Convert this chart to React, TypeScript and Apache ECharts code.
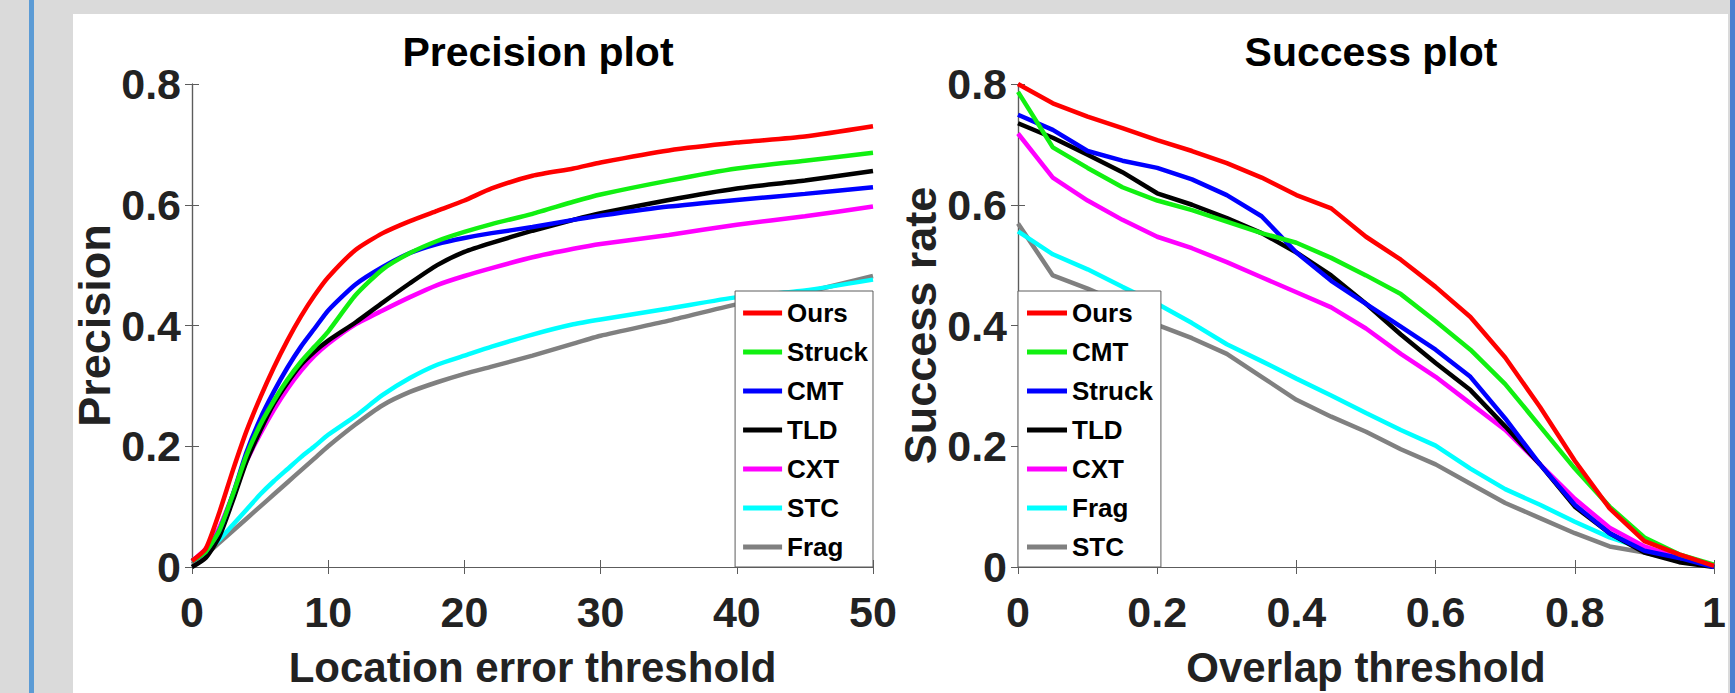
import React, { useEffect, useRef } from "react";
import * as echarts from "echarts";

// ---------- Data ----------
const precisionThresholds = [0, 1, 2, 3, 4, 5, 6, 7, 8, 9, 10, 12, 14, 16, 18, 20, 22, 25, 28, 30, 35, 40, 45, 50];
const precisionNames = ["Ours", "Struck", "CMT", "TLD", "CXT", "STC", "Frag"];
const precOurs = [0.01, 0.03, 0.09, 0.16, 0.225, 0.28, 0.33, 0.375, 0.415, 0.45, 0.48, 0.525, 0.553, 0.573, 0.59, 0.607, 0.627, 0.648, 0.66, 0.67, 0.69, 0.703, 0.713, 0.73];
const precStruck = [0.01, 0.025, 0.06, 0.12, 0.185, 0.235, 0.275, 0.31, 0.34, 0.365, 0.39, 0.45, 0.493, 0.52, 0.54, 0.555, 0.568, 0.585, 0.605, 0.617, 0.64, 0.66, 0.673, 0.686];
const precCMT = [0.01, 0.025, 0.06, 0.12, 0.19, 0.245, 0.29, 0.33, 0.365, 0.395, 0.425, 0.468, 0.497, 0.52, 0.535, 0.545, 0.553, 0.563, 0.575, 0.582, 0.597, 0.608, 0.618, 0.629];
const precTLD = [0.0, 0.015, 0.05, 0.11, 0.175, 0.225, 0.27, 0.305, 0.335, 0.357, 0.375, 0.405, 0.438, 0.47, 0.5, 0.522, 0.537, 0.557, 0.575, 0.586, 0.608, 0.627, 0.64, 0.656];
const precCXT = [0.01, 0.03, 0.065, 0.12, 0.175, 0.22, 0.26, 0.295, 0.325, 0.35, 0.37, 0.402, 0.425, 0.447, 0.467, 0.482, 0.495, 0.513, 0.527, 0.535, 0.55, 0.567, 0.581, 0.597];
const precSTC = [0.01, 0.025, 0.045, 0.07, 0.095, 0.12, 0.142, 0.162, 0.182, 0.2, 0.219, 0.25, 0.285, 0.313, 0.335, 0.35, 0.365, 0.385, 0.402, 0.41, 0.428, 0.447, 0.458, 0.476];
const precFrag = [0.005, 0.02, 0.04, 0.06, 0.08, 0.1, 0.12, 0.14, 0.16, 0.18, 0.2, 0.236, 0.268, 0.29, 0.306, 0.32, 0.332, 0.35, 0.37, 0.383, 0.408, 0.435, 0.455, 0.482];
const precisionValues = [precOurs, precStruck, precCMT, precTLD, precCXT, precSTC, precFrag];

const overlapThresholds = [0, 0.05, 0.1, 0.15, 0.2, 0.25, 0.3, 0.35, 0.4, 0.45, 0.5, 0.55, 0.6, 0.65, 0.7, 0.75, 0.8, 0.85, 0.9, 0.95, 1];
const successNames = ["Ours", "CMT", "Struck", "TLD", "CXT", "Frag", "STC"];
const succOurs = [0.8, 0.768, 0.746, 0.727, 0.707, 0.689, 0.669, 0.645, 0.616, 0.594, 0.547, 0.509, 0.464, 0.414, 0.347, 0.265, 0.176, 0.097, 0.043, 0.021, 0.002];
const succCMT = [0.787, 0.695, 0.661, 0.629, 0.607, 0.591, 0.572, 0.553, 0.537, 0.512, 0.483, 0.452, 0.407, 0.36, 0.303, 0.233, 0.163, 0.1, 0.049, 0.021, 0.004];
const succStruck = [0.749, 0.724, 0.689, 0.673, 0.661, 0.642, 0.616, 0.581, 0.521, 0.474, 0.436, 0.398, 0.36, 0.315, 0.246, 0.17, 0.103, 0.056, 0.027, 0.015, 0.0];
const succTLD = [0.735, 0.711, 0.683, 0.654, 0.619, 0.6, 0.578, 0.553, 0.521, 0.483, 0.436, 0.385, 0.338, 0.293, 0.233, 0.17, 0.1, 0.056, 0.024, 0.008, 0.0];
const succCXT = [0.718, 0.645, 0.607, 0.575, 0.547, 0.528, 0.505, 0.48, 0.455, 0.43, 0.395, 0.353, 0.315, 0.271, 0.227, 0.17, 0.113, 0.065, 0.034, 0.015, 0.002];
const succFrag = [0.556, 0.518, 0.493, 0.464, 0.436, 0.404, 0.369, 0.341, 0.312, 0.284, 0.255, 0.227, 0.201, 0.163, 0.129, 0.103, 0.075, 0.049, 0.03, 0.015, 0.002];
const succSTC = [0.569, 0.483, 0.461, 0.436, 0.401, 0.379, 0.353, 0.315, 0.277, 0.249, 0.224, 0.195, 0.17, 0.138, 0.106, 0.081, 0.056, 0.034, 0.024, 0.011, 0.002];
const successValues = [succOurs, succCMT, succStruck, succTLD, succCXT, succFrag, succSTC];

const lineColors = ["#ff0000", "#11f011", "#0000ff", "#000000", "#ff00ff", "#00ffff", "#808080"];

const SUCC_SUFFIX = " (S)";

const FONT = '"Liberation Sans", Arial, Helvetica, sans-serif';

export default function App() {
  const ref = useRef<HTMLDivElement>(null);

  useEffect(() => {
    if (!ref.current) return;
    const chart = echarts.init(ref.current, null, { renderer: "svg" });

    const axisLine = { show: true, lineStyle: { color: "#5c5c5c", width: 1.2 } };
    const tick = { show: true, inside: true, length: 7, lineStyle: { color: "#5c5c5c", width: 1 } };
    const tickLabel = (margin: number) => ({
      fontFamily: FONT,
      fontWeight: "bold" as const,
      fontSize: 43,
      color: "#222",
      margin,
    });

    const makeX = (grid: number, max: number, interval: number, name: string) => [
      {
        type: "value",
        gridIndex: grid,
        min: 0,
        max,
        interval,
        position: "bottom",
        axisLine,
        axisTick: tick,
        splitLine: { show: false },
        axisLabel: tickLabel(23),
        name,
        nameLocation: "middle",
        nameGap: 79,
        nameTextStyle: { fontFamily: FONT, fontWeight: "bold", fontSize: 42, color: "#222" },
      },
      {
        type: "value",
        gridIndex: grid,
        min: 0,
        max,
        interval,
        position: "top",
        axisLine,
        axisTick: tick,
        splitLine: { show: false },
        axisLabel: { show: false },
      },
    ];
    const makeY = (grid: number, name: string, gap: number) => [
      {
        type: "value",
        gridIndex: grid,
        min: 0,
        max: 0.8,
        interval: 0.2,
        position: "left",
        axisLine,
        axisTick: tick,
        splitLine: { show: false },
        axisLabel: tickLabel(11),
        name,
        nameLocation: "middle",
        nameGap: gap,
        nameTextStyle: { fontFamily: FONT, fontWeight: "bold", fontSize: 45, color: "#222" },
      },
      {
        type: "value",
        gridIndex: grid,
        min: 0,
        max: 0.8,
        interval: 0.2,
        position: "right",
        axisLine,
        axisTick: tick,
        splitLine: { show: false },
        axisLabel: { show: false },
      },
    ];

    const series: any[] = [];
    precisionNames.forEach((n, i) => {
      series.push({
        type: "line",
        name: n,
        xAxisIndex: 0,
        yAxisIndex: 0,
        data: precisionThresholds.map((x, j) => [x, precisionValues[i][j]]),
        showSymbol: false,
        smooth: 0.2,
        lineStyle: { color: lineColors[i], width: 4.5 },
        itemStyle: { color: lineColors[i] },
        z: 10 - i,
      });
    });
    successNames.forEach((n, i) => {
      series.push({
        type: "line",
        name: n + SUCC_SUFFIX,
        xAxisIndex: 2,
        yAxisIndex: 2,
        data: overlapThresholds.map((x, j) => [x, successValues[i][j]]),
        showSymbol: false,
        lineStyle: { color: lineColors[i], width: 4.5 },
        itemStyle: { color: lineColors[i] },
        z: 10 - i,
      });
    });

    const legendCommon = {
      orient: "vertical",
      icon: "rect",
      itemHeight: 5,
      itemGap: 13,
      selectedMode: false,
      backgroundColor: "#ffffff",
      borderColor: "#5c5c5c",
      borderWidth: 1,
      borderRadius: 0,
      z: 20,
      textStyle: { fontFamily: FONT, fontWeight: "bold", fontSize: 26, lineHeight: 26, color: "#000" },
    };

    chart.setOption({
      animation: false,
      backgroundColor: "transparent",
      title: [
        {
          text: "Precision plot",
          left: 533,
          top: 26,
          textAlign: "center",
          textStyle: { fontFamily: FONT, fontWeight: "bold", fontSize: 41, color: "#000" },
        },
        {
          text: "Success plot",
          left: 1366,
          top: 26,
          textAlign: "center",
          textStyle: { fontFamily: FONT, fontWeight: "bold", fontSize: 41, color: "#000" },
        },
      ],
      grid: [
        { left: 192, top: 84, width: 681, height: 484, containLabel: false },
        { left: 1018, top: 84, width: 696, height: 484, containLabel: false },
      ],
      xAxis: [...makeX(0, 50, 10, "Location error threshold"), ...makeX(1, 1, 0.2, "Overlap threshold")],
      yAxis: [...makeY(0, "Precision", 64), ...makeY(1, "Success rate", 63)],
      legend: [
        {
          ...legendCommon,
          data: precisionNames,
          right: 862,
          bottom: 126,
          itemWidth: 39,
          padding: [9, 5, 7, 8],
        },
        {
          ...legendCommon,
          data: successNames.map((n) => n + SUCC_SUFFIX),
          formatter: (name: string) => name.replace(SUCC_SUFFIX, ""),
          left: 1018,
          bottom: 126,
          itemWidth: 40,
          padding: [9, 8, 7, 9],
        },
      ],
      series,
    });

    return () => chart.dispose();
  }, []);

  return (
    <div style={{ position: "fixed", left: 0, top: 0, width: 1735, height: 693, background: "#dadada", overflow: "hidden" }}>
      <div style={{ position: "absolute", left: 29, top: 0, width: 5, height: 693, background: "#5b9bd5" }} />
      <div style={{ position: "absolute", left: 73, top: 14, width: 1655, height: 679, background: "#ffffff" }} />
      <div style={{ position: "absolute", left: 1730, top: 0, width: 5, height: 693, background: "#4a7fd0" }} />
      <div ref={ref} style={{ position: "absolute", left: 0, top: 0, width: 1735, height: 693 }} />
    </div>
  );
}
